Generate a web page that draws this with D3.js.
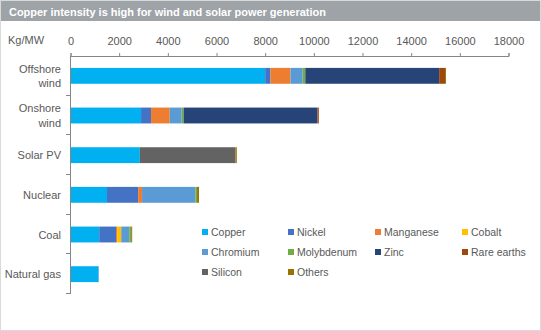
<!DOCTYPE html>
<html><head><meta charset="utf-8">
<script src="https://cdn.jsdelivr.net/npm/d3@7"></script>
<style>body{margin:0;background:#fff}svg{display:block}text{font-family:"Liberation Sans",Arial,sans-serif}</style>
</head><body><svg id="c" width="541" height="331"></svg>
<script>
const title = "Copper intensity is high for wind and solar power generation";
const unitLabel = "Kg/MW";
const categories = ["Offshore wind","Onshore wind","Solar PV","Nuclear","Coal","Natural gas"];
const materials = ["Copper","Nickel","Manganese","Cobalt","Chromium","Molybdenum","Zinc","Rare earths","Silicon","Others"];
const colors = ["#00B0F0","#4472C4","#ED7D31","#FFC000","#5B9BD5","#70AD47","#264478","#9E480E","#636363","#997300"];
const tickValues = [0,2000,4000,6000,8000,10000,12000,14000,16000,18000];
// values per material, in category order
const copper     = [8000, 2900, 2850, 1500, 1180, 1150];
const nickel     = [ 220,  410,    0, 1280,  690,    0];
const manganese  = [ 820,  770,    0,  160,   55,    0];
const cobalt     = [   0,    0,    0,    0,  160,    0];
const chromium   = [ 500,  490,    0, 2190,  330,   20];
const molybdenum = [ 110,   80,    0,   70,   80,    0];
const zinc       = [5500, 5500,    0,    0,    0,    0];
const rareEarths = [ 240,   55,    0,    0,    0,    0];
const silicon    = [   0,    0, 3930,    0,    0,    0];
const others     = [  40,    0,   55,   80,   40,    0];
const series = [copper,nickel,manganese,cobalt,chromium,molybdenum,zinc,rareEarths,silicon,others];

const rows = categories.map((c,i)=>{const r={cat:c}; materials.forEach((m,j)=>r[m]=series[j][i]); return r;});
const stack = d3.stack().keys(materials)(rows);

const svg = d3.select("#c");
svg.append("rect").attr("x",0.5).attr("y",0.5).attr("width",540).attr("height",330).attr("fill","#fff").attr("stroke","#d9d9d9");
svg.append("rect").attr("x",1).attr("y",1).attr("width",539).attr("height",20).attr("fill","#9ea3a8");
const t = svg.append("text").attr("x",9).attr("y",15.5).attr("fill","#fff").attr("font-weight","bold").attr("font-size",12).text(title);
const tw = t.node().getComputedTextLength();
t.attr("font-size", 12*317/tw);

const x = d3.scaleLinear().domain([0,18000]).range([70.5,508.5]);
const y = d3.scaleBand().domain(categories).range([56,294]).paddingInner(0.6).paddingOuter(0.3);

svg.append("text").attr("x",8).attr("y",44).attr("font-size",11).attr("fill","#595959").text(unitLabel);

const ax = svg.append("g").attr("transform","translate(0,56)")
  .call(d3.axisTop(x).tickValues(tickValues).tickSize(3).tickPadding(8).tickFormat(d3.format("d")));
ax.select(".domain").attr("stroke","#868686");
ax.selectAll(".tick line").attr("stroke","#868686");
ax.selectAll(".tick text").attr("font-size",11).attr("fill","#595959").attr("font-family","Liberation Sans, Arial, sans-serif");

// bars
svg.append("g").selectAll("g").data(stack).join("g").attr("fill",(d,i)=>colors[i])
  .selectAll("rect").data(d=>d).join("rect")
  .attr("x",d=>x(d[0])).attr("width",d=>Math.max(0,x(d[1])-x(d[0])))
  .attr("y",d=>y(d.data.cat)).attr("height",y.bandwidth());

// left axis
const y0 = 56;
svg.append("line").attr("x1",70.5).attr("x2",70.5).attr("y1",y0).attr("y2",294).attr("stroke","#868686");
const bounds = d3.range(1, categories.length+1).map(i=>y0 + i*(294-y0)/categories.length);
svg.append("g").selectAll("line").data(bounds).join("line")
  .attr("x1",66).attr("x2",70.5).attr("y1",d=>Math.round(d)-0.5).attr("y2",d=>Math.round(d)-0.5).attr("stroke","#868686");

// category labels
const lab = svg.append("g").selectAll("text").data(categories).join("text")
  .attr("x",61).attr("text-anchor","end").attr("font-size",11).attr("fill","#595959")
  .attr("y",d=>y(d)+y.bandwidth()/2+4);
lab.each(function(d){
  const el = d3.select(this);
  const parts = d.includes("wind") ? d.split(" ") : [d];
  if(parts.length===1){ el.text(d); }
  else {
    parts.forEach((p,i)=>el.append("tspan").attr("x",61).attr("dy", i===0? "-0.65em":"1.3em").text(p));
  }
});

// legend
const colX = [202, 288, 375, 462];
const rowY = [232, 252, 272];
const lg = svg.append("g").selectAll("g").data(materials).join("g")
  .attr("transform",(d,i)=>`translate(${colX[i%4]},${rowY[Math.floor(i/4)]})`);
lg.append("rect").attr("x",0).attr("y",-3).attr("width",6).attr("height",6).attr("fill",(d,i)=>colors[i]);
lg.append("text").attr("x",9).attr("y",4).attr("font-size",10.5).attr("fill","#595959").text(d=>d);
</script></body></html>
